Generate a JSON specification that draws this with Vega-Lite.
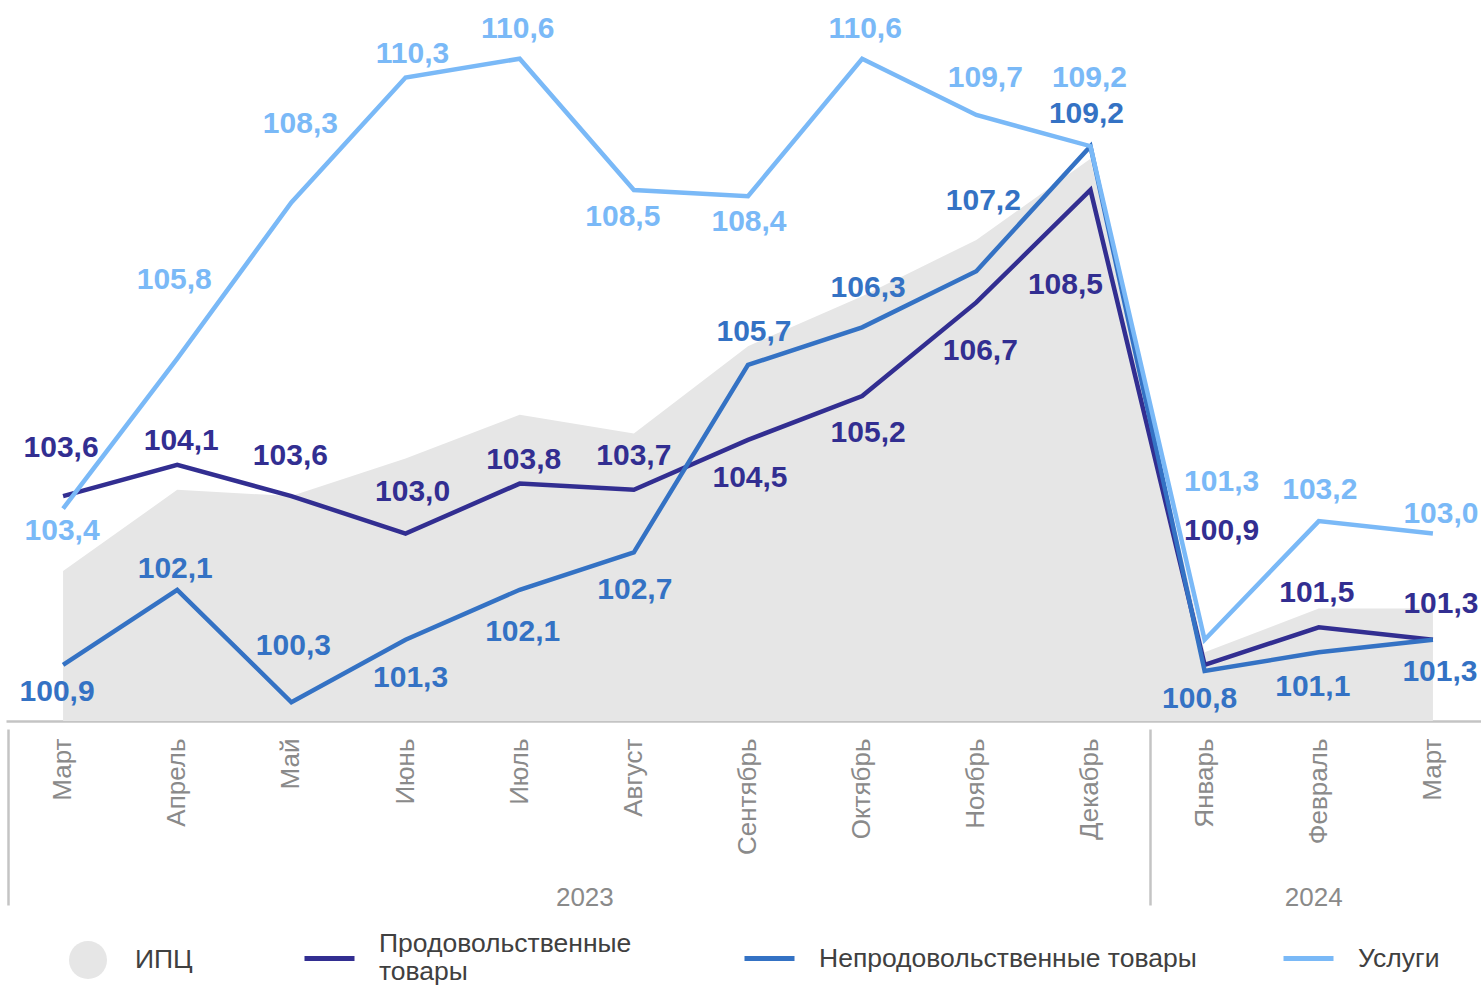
{
  "$schema": "https://vega.github.io/schema/vega-lite/v6.json",
  "width": 1484,
  "height": 721,
  "padding": {"left": 6, "top": 0, "right": 0, "bottom": 0},
  "background": "white",
  "config": {
    "view": {"stroke": null},
    "font": "Liberation Sans",
    "locale": {"number": {"decimal": ",", "thousands": " ", "grouping": [3], "currency": ["", ""]}}
  },
  "datasets": {
    "cpi": [
      {"period": "2023-03", "series": "ИПЦ", "value": 102.4},
      {"period": "2023-04", "series": "ИПЦ", "value": 103.7},
      {"period": "2023-05", "series": "ИПЦ", "value": 103.6},
      {"period": "2023-06", "series": "ИПЦ", "value": 104.2},
      {"period": "2023-07", "series": "ИПЦ", "value": 104.9},
      {"period": "2023-08", "series": "ИПЦ", "value": 104.6},
      {"period": "2023-09", "series": "ИПЦ", "value": 106.0},
      {"period": "2023-10", "series": "ИПЦ", "value": 106.8},
      {"period": "2023-11", "series": "ИПЦ", "value": 107.7},
      {"period": "2023-12", "series": "ИПЦ", "value": 109.0},
      {"period": "2024-01", "series": "ИПЦ", "value": 101.1},
      {"period": "2024-02", "series": "ИПЦ", "value": 101.8},
      {"period": "2024-03", "series": "ИПЦ", "value": 101.8}
    ],
    "groups": [
      {"period": "2023-03", "series": "Продовольственные товары", "value": 103.6},
      {"period": "2023-04", "series": "Продовольственные товары", "value": 104.1},
      {"period": "2023-05", "series": "Продовольственные товары", "value": 103.6},
      {"period": "2023-06", "series": "Продовольственные товары", "value": 103.0},
      {"period": "2023-07", "series": "Продовольственные товары", "value": 103.8},
      {"period": "2023-08", "series": "Продовольственные товары", "value": 103.7},
      {"period": "2023-09", "series": "Продовольственные товары", "value": 104.5},
      {"period": "2023-10", "series": "Продовольственные товары", "value": 105.2},
      {"period": "2023-11", "series": "Продовольственные товары", "value": 106.7},
      {"period": "2023-12", "series": "Продовольственные товары", "value": 108.5},
      {"period": "2024-01", "series": "Продовольственные товары", "value": 100.9},
      {"period": "2024-02", "series": "Продовольственные товары", "value": 101.5},
      {"period": "2024-03", "series": "Продовольственные товары", "value": 101.3},
      {"period": "2023-03", "series": "Непродовольственные товары", "value": 100.9},
      {"period": "2023-04", "series": "Непродовольственные товары", "value": 102.1},
      {"period": "2023-05", "series": "Непродовольственные товары", "value": 100.3},
      {"period": "2023-06", "series": "Непродовольственные товары", "value": 101.3},
      {"period": "2023-07", "series": "Непродовольственные товары", "value": 102.1},
      {"period": "2023-08", "series": "Непродовольственные товары", "value": 102.7},
      {"period": "2023-09", "series": "Непродовольственные товары", "value": 105.7},
      {"period": "2023-10", "series": "Непродовольственные товары", "value": 106.3},
      {"period": "2023-11", "series": "Непродовольственные товары", "value": 107.2},
      {"period": "2023-12", "series": "Непродовольственные товары", "value": 109.2},
      {"period": "2024-01", "series": "Непродовольственные товары", "value": 100.8},
      {"period": "2024-02", "series": "Непродовольственные товары", "value": 101.1},
      {"period": "2024-03", "series": "Непродовольственные товары", "value": 101.3},
      {"period": "2023-03", "series": "Услуги", "value": 103.4},
      {"period": "2023-04", "series": "Услуги", "value": 105.8},
      {"period": "2023-05", "series": "Услуги", "value": 108.3},
      {"period": "2023-06", "series": "Услуги", "value": 110.3},
      {"period": "2023-07", "series": "Услуги", "value": 110.6},
      {"period": "2023-08", "series": "Услуги", "value": 108.5},
      {"period": "2023-09", "series": "Услуги", "value": 108.4},
      {"period": "2023-10", "series": "Услуги", "value": 110.6},
      {"period": "2023-11", "series": "Услуги", "value": 109.7},
      {"period": "2023-12", "series": "Услуги", "value": 109.2},
      {"period": "2024-01", "series": "Услуги", "value": 101.3},
      {"period": "2024-02", "series": "Услуги", "value": 103.2},
      {"period": "2024-03", "series": "Услуги", "value": 103.0}
    ]
  },
  "layer": [
    {
      "data": {"name": "cpi"},
      "mark": {"type": "area", "opacity": 1, "interpolate": "linear"},
      "encoding": {
        "x": {
          "field": "period", "type": "ordinal",
          "scale": {"type": "band", "paddingInner": 0, "paddingOuter": 0},
          "axis": {
            "orient": "bottom", "title": null,
            "labelExpr": "['Январь','Февраль','Март','Апрель','Май','Июнь','Июль','Август','Сентябрь','Октябрь','Ноябрь','Декабрь'][toNumber(slice(datum.value,5,7))-1]",
            "labelAngle": -90, "labelAlign": "right", "labelBaseline": "middle",
            "labelFontSize": 26, "labelColor": "#8a8a8a", "labelPadding": 17,
            "ticks": false, "tickSize": 0,
            "domainColor": "#c4c4c4", "domainWidth": 2.5,
            "grid": false, "labelOverlap": false, "labelBound": false, "labelFlush": false
          }
        },
        "y": {"field": "value", "type": "quantitative", "scale": {"domain": [100, 111.54], "zero": false, "nice": false}, "axis": null},
        "y2": {"datum": 100},
        "fill": {
          "field": "series", "type": "nominal",
          "scale": {"domain": ["ИПЦ"], "range": ["#e6e6e6"]},
          "legend": {
            "orient": "none", "legendX": 63, "legendY": 941, "title": null, "padding": 0,
            "labelFontSize": 26.5, "labelColor": "#404040", "labelOffset": 28,
            "symbolType": "circle", "symbolSize": 1444, "symbolOpacity": 1, "symbolStrokeWidth": 0
          }
        }
      }
    },
    {
      "data": {"name": "groups"},
      "transform": [{"filter": "datum.series === 'Продовольственные товары'"}],
      "mark": {"type": "line", "strokeWidth": 4.5, "strokeJoin": "miter"},
      "encoding": {
        "x": {
          "field": "period", "type": "ordinal",
          "scale": {"type": "band", "paddingInner": 0, "paddingOuter": 0},
          "axis": null
        },
        "y": {"field": "value", "type": "quantitative", "scale": {"domain": [100, 111.54], "zero": false, "nice": false}, "axis": null},
        "color": {
          "field": "series", "type": "nominal",
          "scale": {"domain": ["Продовольственные товары"], "range": ["#322e91"]},
          "legend": {
            "orient": "none", "legendX": 296, "legendY": 931, "title": null, "padding": 0,
            "labelFontSize": 26.5, "labelColor": "#404040", "labelOffset": 22, "labelLimit": 700,
            "labelBaseline": "line-bottom",
            "symbolType": "stroke", "symbolSize": 2500, "symbolStrokeWidth": 5,
            "labelExpr": "['Продовольственные', 'товары']"
          }
        }
      }
    },
    {
      "data": {"name": "groups"},
      "transform": [{"filter": "datum.series !== 'Продовольственные товары'"}],
      "mark": {"type": "line", "strokeWidth": 4.5, "strokeJoin": "miter"},
      "encoding": {
        "x": {
          "field": "period", "type": "ordinal",
          "scale": {"type": "band", "paddingInner": 0, "paddingOuter": 0},
          "axis": {
            "orient": "bottom", "title": null,
            "values": ["2023-03", "2024-01"], "bandPosition": 0.025,
            "labels": false, "domain": false, "ticks": true,
            "tickSize": 176, "tickWidth": 2.5, "tickColor": "#c4c4c4",
            "offset": 8, "grid": false
          }
        },
        "y": {"field": "value", "type": "quantitative", "scale": {"domain": [100, 111.54], "zero": false, "nice": false}, "axis": null},
        "stroke": {
          "field": "series", "type": "nominal",
          "scale": {"domain": ["Непродовольственные товары", "Услуги"], "range": ["#3472c4", "#7ab9f7"]},
          "legend": {
            "orient": "none", "legendX": 736, "legendY": 931,
            "direction": "horizontal", "columns": 2, "title": null, "padding": 0,
            "labelFontSize": 26.5, "labelColor": "#404040",
            "labelOffset": 22, "labelLimit": 700, "columnPadding": 76,
            "symbolType": "stroke", "symbolSize": 2500, "symbolStrokeWidth": 5
          }
        }
      }
    },
    {
      "data": {"name": "groups"},
      "mark": {
        "type": "text", "fontSize": 30, "fontWeight": "bold", "align": "center", "baseline": "middle",
        "dx": {"expr": "(datum.series === 'Услуги' ? [-1,-3,9,7,-2,-11,1,3,9,-1,17,1,8] : datum.series === 'Продовольственные товары' ? [-2,4,-1,7,4,0,2,6,4,-25,17,-2,8] : [-6,-2,2,5,3,1,6,6,7,-4,-5,-6,7])[indexof(['2023-03','2023-04','2023-05','2023-06','2023-07','2023-08','2023-09','2023-10','2023-11','2023-12','2024-01','2024-02','2024-03'], datum.period)]"},
        "dy": {"expr": "(datum.series === 'Услуги' ? [22,-79,-78,-23,-30,27,26,-30,-37,-68,-158,-31,-20] : datum.series === 'Продовольственные товары' ? [-48,-24,-40,-42,-24,-34,38,37,49,95,-134,-34,-36] : [27,-21,-56,38,42,38,-33,-39,-70,-32,28,35,32])[indexof(['2023-03','2023-04','2023-05','2023-06','2023-07','2023-08','2023-09','2023-10','2023-11','2023-12','2024-01','2024-02','2024-03'], datum.period)]"}
      },
      "encoding": {
        "x": {
          "field": "period", "type": "ordinal",
          "scale": {"type": "band", "paddingInner": 0, "paddingOuter": 0},
          "axis": {
            "orient": "bottom", "title": null,
            "values": ["2023-08", "2024-02"],
            "labelExpr": "slice(datum.value, 0, 4)",
            "labelAngle": 0, "labelAlign": "center", "labelBaseline": "middle",
            "labelFontSize": 26, "labelColor": "#8a8a8a", "labelPadding": 176.5,
            "labelOffset": {"condition": {"test": "datum.value === '2023-08'", "value": -49}, "value": -5},
            "ticks": false, "tickSize": 0, "domain": false, "grid": false,
            "labelOverlap": false, "labelBound": false, "labelFlush": false
          }
        },
        "y": {"field": "value", "type": "quantitative", "scale": {"domain": [100, 111.54], "zero": false, "nice": false}, "axis": null},
        "text": {"field": "value", "type": "quantitative", "format": ".1f"},
        "color": {
          "field": "series", "type": "nominal",
          "scale": {
            "domain": ["Продовольственные товары", "Непродовольственные товары", "Услуги"],
            "range": ["#322e91", "#3472c4", "#7ab9f7"]
          },
          "legend": null
        }
      }
    }
  ],
  "resolve": {"axis": {"x": "independent"}, "scale": {"color": "independent"}}
}
